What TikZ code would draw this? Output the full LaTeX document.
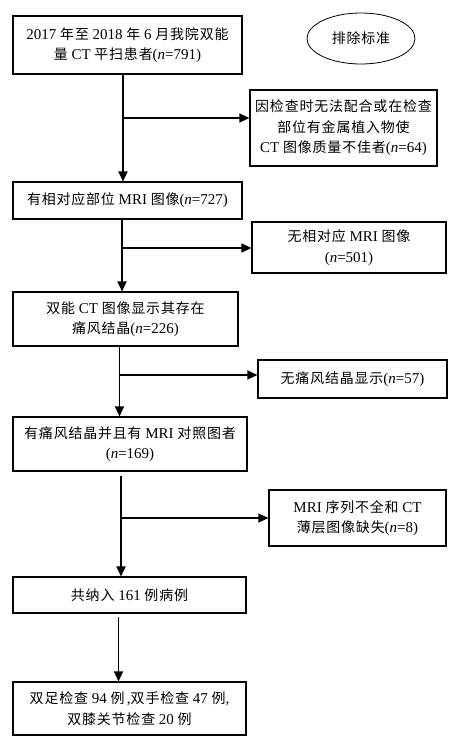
\documentclass[tikz,border=0pt]{standalone}
\usepackage{fontspec}
\setmainfont{Liberation Serif}
\newfontfamily\cjk{Noto Sans CJK SC}[Scale=0.93,LetterSpace=6]
\newcommand{\zh}[1]{{\cjk #1}}
\usetikzlibrary{positioning, arrows.meta, shapes.geometric}

\begin{document}
\begin{tikzpicture}[x=1pt, y=-1pt, >={Triangle[width=9pt,length=10pt]},
	box/.style={draw, rectangle, line width=1.1pt, align=center, inner sep=0pt, font=\fontsize{15}{20.5}\selectfont},
	trunk/.style={->, line width=1.8pt},
	thintrunk/.style={->, line width=1.1pt},
	branch/.style={->, line width=1.2pt}]
	
	\useasboundingbox (0,0) rectangle (465,748);
	
	% Main column
	\node [box, minimum width=229pt, minimum height=58pt] (scan) at (127.5,45) {2017 \zh{年至} 2018 \zh{年} 6 \zh{月我院双能}\\ \zh{量} CT \zh{平扫患者}(\textit{n}=791)};
	\node [box, minimum width=229pt, minimum height=37pt] (mri) at (127.5,200.5) {\zh{有相对应部位} MRI \zh{图像}(\textit{n}=727)};
	\node [box, minimum width=225pt, minimum height=54pt] (crystal) at (125.5,319) {\zh{双能} CT \zh{图像显示其存在}\\ \zh{痛风结晶}(\textit{n}=226)};
	\node [box, minimum width=234pt, minimum height=54pt] (both) at (130,444) {\zh{有痛风结晶并且有} MRI \zh{对照图者}\\ (\textit{n}=169)};
	\node [box, minimum width=233pt, minimum height=36pt] (total) at (129.5,595) {\zh{共纳入} 161 \zh{例病例}};
	\node [box, minimum width=233pt, minimum height=53pt] (sites) at (129.5,708.5) {\zh{双足检查} 94 \zh{例}\,,\zh{双手检查} 47 \zh{例},\\ \zh{双膝关节检查} 20 \zh{例}};
	
	% Exclusion column
	\node [draw, ellipse, line width=0.8pt, minimum width=108pt, minimum height=51pt, font=\fontsize{15}{20.5}\selectfont] (excl) at (361,38.5) {\zh{排除标准}};
	\node [box, minimum width=187pt, minimum height=76pt] (poor) at (343.5,128) {\zh{因检查时无法配合或在检查}\\ \zh{部位有金属植入物使}\\ CT \zh{图像质量不佳者}(\textit{n}=64)};
	\node [box, minimum width=194pt, minimum height=51pt] (nomri) at (349,247.5) {\zh{无相对应} MRI \zh{图像}\\ (\textit{n}=501)};
	\node [box, minimum width=189pt, minimum height=38pt] (nocrystal) at (352.5,379) {\zh{无痛风结晶显示}(\textit{n}=57)};
	\node [box, minimum width=177pt, minimum height=56pt] (missing) at (357.5,518) {MRI \zh{序列不全和} CT\\ \zh{薄层图像缺失}(\textit{n}=8)};
	
	% Junctions on the trunk
	\coordinate (j1) at (123,118);
	\coordinate (j2) at (122,248);
	\coordinate (j3) at (119.5,375);
	\coordinate (j4) at (121,518);
	\coordinate (j5) at (118.5,640);
	
	% Arrows
	\draw[trunk] (j1 |- scan.south) -- (j1 |- mri.north);
	\draw[branch] (j1) -- (j1 -| poor.west);
	\draw[trunk] (j2 |- mri.south) -- (j2 |- crystal.north);
	\draw[branch] (j2) -- (j2 -| nomri.west);
	\draw[thintrunk] (j3 |- crystal.south) -- (j3 |- both.north);
	\draw[branch] (j3) -- (j3 -| nocrystal.west);
	\draw[trunk] (j4 |- both.south) ++(0,4) -- (j4 |- total.north);
	\draw[branch] (j4) -- (j4 -| missing.west);
	\draw[thintrunk] (j5 |- total.south) ++(0,3) -- (j5 |- sites.north);
	
\end{tikzpicture}
\end{document}
